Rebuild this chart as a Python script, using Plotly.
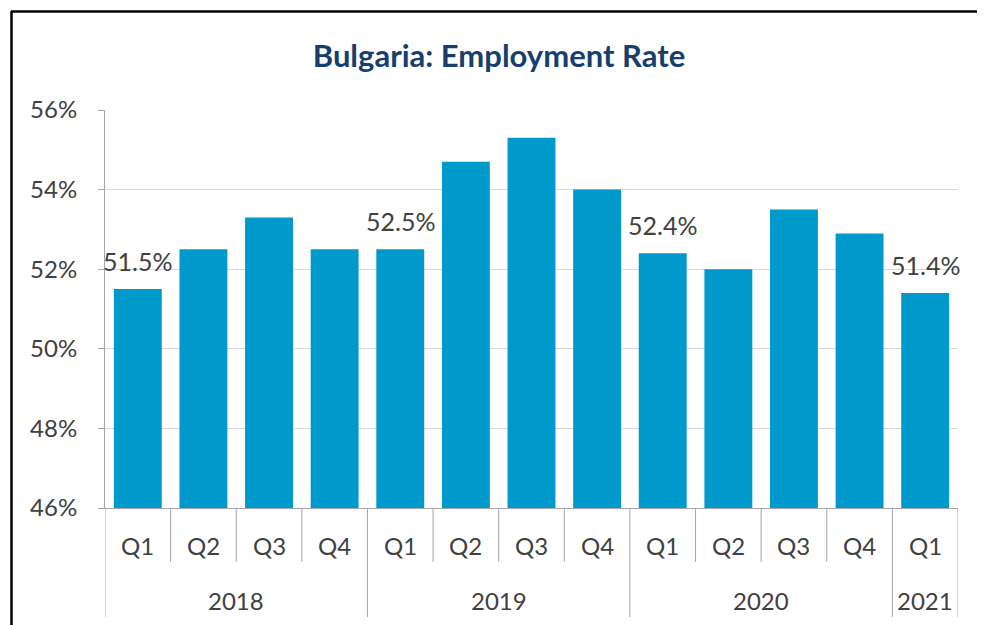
import plotly.graph_objects as go

# ---- data ----
years = ["2018", "2018", "2018", "2018",
         "2019", "2019", "2019", "2019",
         "2020", "2020", "2020", "2020",
         "2021"]
quarters = ["Q1", "Q2", "Q3", "Q4",
            "Q1", "Q2", "Q3", "Q4",
            "Q1", "Q2", "Q3", "Q4",
            "Q1"]
values = [51.5, 52.5, 53.3, 52.5,
          52.5, 54.7, 55.3, 54.0,
          52.4, 52.0, 53.5, 52.9,
          51.4]
shown_labels = ["51.5%", "", "", "",
                "52.5%", "", "", "",
                "52.4%", "", "", "",
                "51.4%"]
y_ticks = [46, 48, 50, 52, 54, 56]
y_tick_text = ["46%", "48%", "50%", "52%", "54%", "56%"]

categories = [f"{y} {q}" for y, q in zip(years, quarters)]

FONT = "Lato"
TXT = "#404040"
AXIS = "#A6A6A6"

# page offset (body margin) compensation
OFF = 8
FW, FH = 985 - OFF, 625 - OFF

fig = go.Figure()
fig.add_trace(go.Bar(
    x=categories, y=values,
    marker=dict(color="#0099CC", line=dict(width=0)),
    cliponaxis=False, hoverinfo="skip",
))

# plot-area geometry in page pixels
PL, PR, PT, PB = 105, 958, 110, 508
L = PL - OFF
T = PT - OFF
R = FW - (PR - OFF)
B = FH - (PB - OFF)
H = PB - PT
W = PR - PL

def py(pix):
    """page pixel y -> paper y"""
    return (PB - pix) / H

def px(pix):
    return (pix - PL) / W

annotations = []
shapes = []
# value labels above selected bars
for c, v, t in zip(categories, values, shown_labels):
    if t:
        annotations.append(dict(x=c, y=v, xref="x", yref="y", text=t,
                                showarrow=False, yanchor="bottom", yshift=11,
                                font=dict(family=FONT, size=25, color=TXT)))
# quarter labels
for c, q in zip(categories, quarters):
    annotations.append(dict(x=c, y=py(545), xref="x", yref="paper", text=q,
                            showarrow=False, yanchor="middle",
                            font=dict(family=FONT, size=24, color=TXT)))
# year labels and separators
groups = []
for i, y in enumerate(years):
    if not groups or groups[-1][0] != y:
        groups.append([y, i, i])
    else:
        groups[-1][2] = i
for y, a, b in groups:
    annotations.append(dict(x=(a + b) / 2, y=py(600), xref="x", yref="paper", text=y,
                            showarrow=False, yanchor="middle",
                            font=dict(family=FONT, size=24, color=TXT)))
    shapes.append(dict(type="line", xref="x", yref="paper", x0=a - 0.5, x1=a - 0.5,
                       y0=0, y1=py(617), line=dict(color=AXIS, width=1)))
    for i in range(a + 1, b + 1):
        shapes.append(dict(type="line", xref="x", yref="paper", x0=i - 0.5, x1=i - 0.5,
                           y0=0, y1=py(562), line=dict(color=AXIS, width=1)))
last = len(categories) - 1
shapes.append(dict(type="line", xref="x", yref="paper", x0=last + 0.5, x1=last + 0.5,
                   y0=0, y1=py(617), line=dict(color=AXIS, width=1)))

# outer border (top & left)
shapes.append(dict(type="line", xref="paper", yref="paper", x0=px(11), x1=px(990),
                   y0=py(11.5), y1=py(11.5), line=dict(color="black", width=2.5)))
shapes.append(dict(type="line", xref="paper", yref="paper", x0=px(11.5), x1=px(11.5),
                   y0=py(11), y1=py(640), line=dict(color="black", width=2.5)))

fig.update_layout(
    width=FW, height=FH,
    margin=dict(l=L, r=R, t=T, b=B, pad=0),
    paper_bgcolor="white", plot_bgcolor="white",
    bargap=0.27,
    showlegend=False,
    title=dict(text="<b>Bulgaria: Employment Rate</b>", x=(499 - OFF) / FW, xref="container",
               xanchor="center", y=1 - (56 - OFF) / FH, yref="container", yanchor="middle",
               font=dict(family=FONT, size=31, color="#163F6E")),
    xaxis=dict(type="category", range=[-0.5, len(categories) - 0.5],
               showticklabels=False, ticks="", showline=True, linecolor=AXIS,
               linewidth=1, showgrid=False, fixedrange=True),
    yaxis=dict(range=[46, 56], tickvals=y_ticks, ticktext=y_tick_text,
               ticks="outside", ticklen=6, tickcolor=AXIS, showline=True,
               linecolor=AXIS, linewidth=1, showgrid=True, gridcolor="#D9D9D9",
               gridwidth=1, zeroline=False, ticklabelstandoff=16,
               tickfont=dict(family=FONT, size=24, color=TXT), fixedrange=True),
    annotations=annotations, shapes=shapes,
)

fig.write_html("out.html")
